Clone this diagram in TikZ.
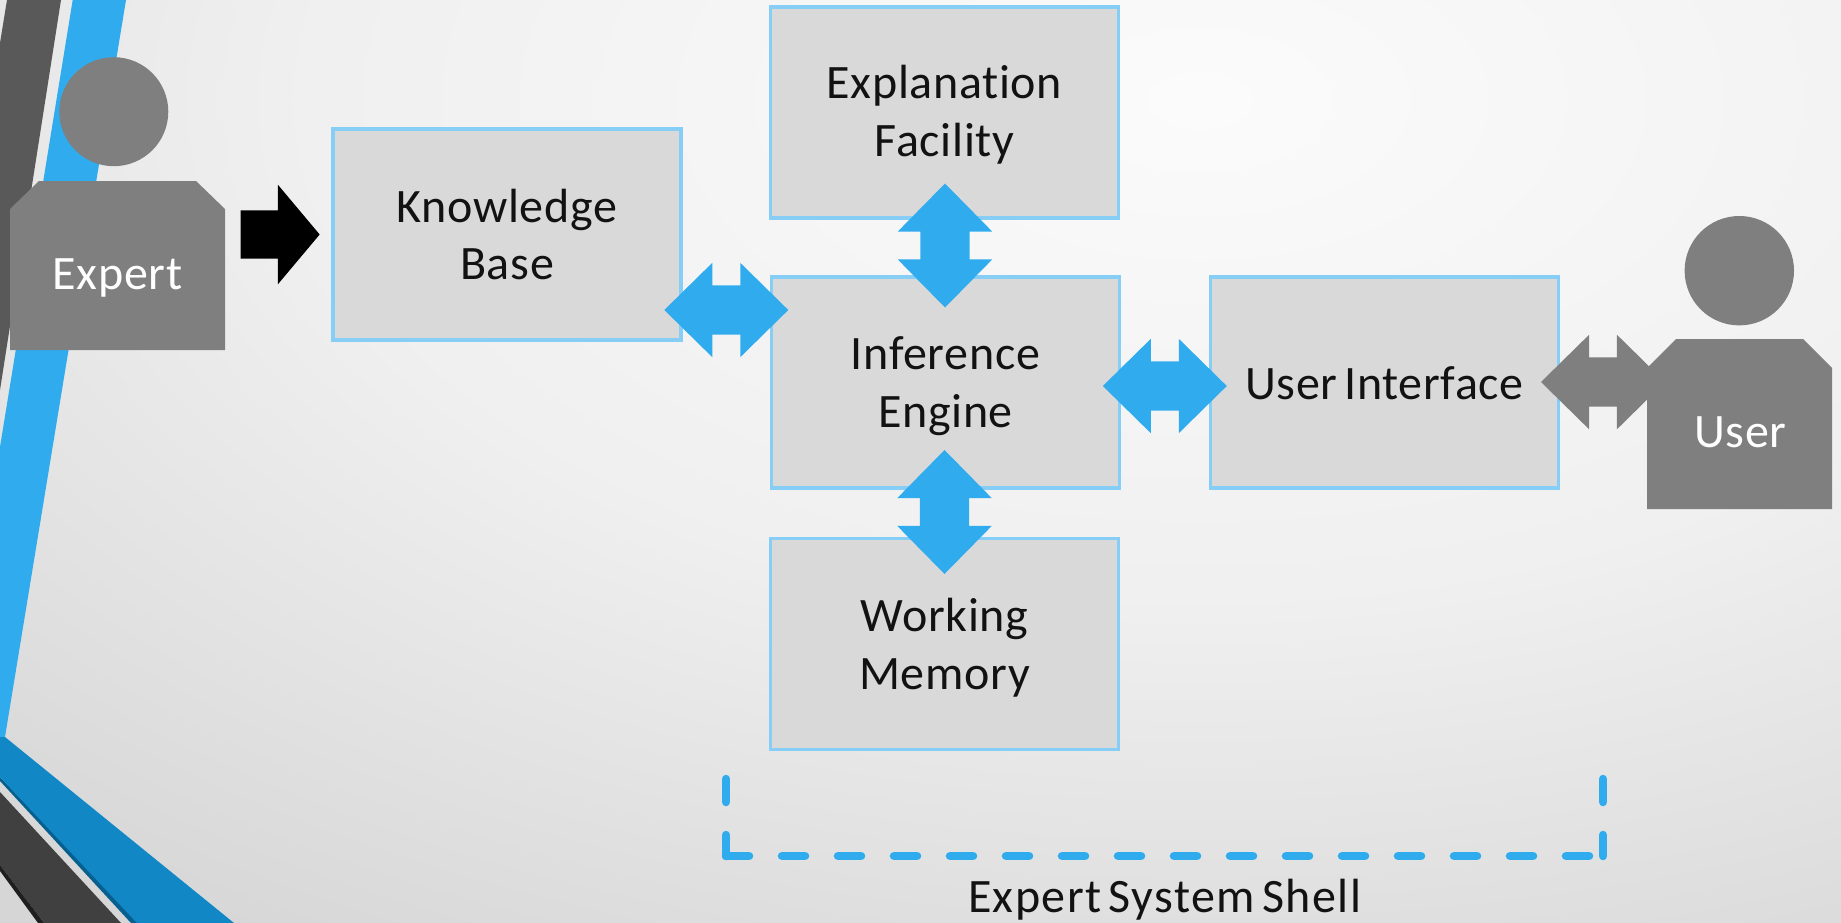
\documentclass[tikz,border=0pt]{standalone}
\usepackage{fontspec}
\setmainfont[Ligatures=NoCommon,LetterSpace=1.4,WordSpace=0.6]{Carlito}
\usetikzlibrary{shapes.arrows}
\pgfdeclareradialshading{slidebg}{\pgfpoint{0bp}{0bp}}{rgb(0bp)=(0.985,0.985,0.985);rgb(12.5bp)=(0.94,0.94,0.94);rgb(25bp)=(0.84,0.84,0.84);rgb(50bp)=(0.84,0.84,0.84)}
\definecolor{pageEdge}{rgb}{0.84,0.84,0.84}
\definecolor{boxfill}{HTML}{D9D9D9}
\definecolor{boxline}{HTML}{87CEF6}
\definecolor{skyblue}{HTML}{30ACEE}
\definecolor{manGray}{HTML}{7F7F7F}
\definecolor{bandDeep}{HTML}{1287C5}
\definecolor{bandEdge}{HTML}{05608F}
\tikzset{
  box/.style={draw=boxline,fill=boxfill,line width=3.5pt,rectangle,inner sep=0pt,
    minimum width=348pt,minimum height=211pt},
  boxtext/.style={align=center,text=black!93,inner sep=0pt,font=\fontsize{48}{57.5}\selectfont},
  dbl/.style={double arrow,double arrow head extend=22.5pt,double arrow tip angle=89,
    minimum width=94pt,minimum height=124pt,inner sep=0pt,fill=skyblue,anchor=center},
  lbl/.style={anchor=base,inner sep=0pt,font=\fontsize{48}{57.5}\selectfont},
  bracket/.style={draw=skyblue,line width=8.5pt,line cap=round,dash pattern=on 23pt off 33pt}
}
\newcommand{\shaftrule}{\rule{0pt}{49pt}}
\begin{document}
\begin{tikzpicture}[x=1pt,y=-1pt]
\useasboundingbox (0,0) rectangle (1841,923);
\begin{scope}
\clip (0,0) rectangle (1841,923);
\fill[pageEdge] (0,0) rectangle (1841,923);
\shade[shading=slidebg] (1200,100) ellipse [x radius=1800,y radius=1000];
\fill[black!65] (7,0) -- (61,0) -- (0,390) -- (0,43) -- cycle;
\fill[skyblue] (72.7,0) -- (126,0) -- (5,737) -- (0,737) -- (0,447) -- cycle;
\fill[black!75] (0,792) -- (121,923) -- (44,923) -- (0,865) -- cycle;
\fill[black!88] (0,865) -- (44,923) -- (38,923) -- (0,871) -- cycle;
\fill[bandEdge] (0,777) -- (139,923) -- (131,923) -- (0,781) -- cycle;
\fill[bandDeep] (0,737) -- (5,737) -- (234,923) -- (137,923) -- (0,777) -- cycle;
\end{scope}

% boxes
\node[box,label={[boxtext]center:{Knowledge\\Base}}] (kb) at (507,234.5) {};
\node[box,label={[boxtext,yshift=-2.4pt]center:{Explanation\\Facility}}] (ef) at (944.5,112.5) {};
\node[box,label={[boxtext,yshift=-3.5pt]center:{Inference\\Engine}}] (ie) at (945.5,382.5) {};
\node[box,label={[boxtext,yshift=-3.5pt]center:{Working\\Memory}}] (wm) at (944.5,644) {};
\node[box,label={[boxtext,yshift=-1pt]center:{User Interface}}] (ui) at (1384.5,382.5) {};

% expert
\fill[manGray] (10,209) -- (39,181) -- (196,181) -- (225,209) -- (225,350) -- (10,350) -- cycle;
\fill[manGray] (113.8,111.7) circle (54.5);
\node[lbl,text=white] (expert) at (117.5,289.5) {Expert};
\node[single arrow,single arrow head extend=25.5pt,single arrow tip angle=100,minimum width=99pt,
  minimum height=79pt,inner sep=0pt,fill=black,anchor=center] (toKb) at (270,234.5) {\rule{0pt}{48pt}};

% user
\node[dbl,fill=manGray] (uiUser) at (1603,382) {\shaftrule};
\fill[manGray] (1647,368) -- (1676,339) -- (1803,339) -- (1832,368) -- (1832,509) -- (1647,509) -- cycle;
\fill[manGray] (1739.3,270.7) circle (54.7);
\node[lbl,text=white] (user) at (1740.5,447.5) {User};

% arrows
\node[dbl] (kbIe) at (726.3,310) {\shaftrule};
\node[dbl] (ieUi) at (1164.8,386) {\shaftrule};
\node[dbl,rotate=90] (efIe) at (945,245.5) {\shaftrule};
\node[dbl,rotate=90] (ieWm) at (944.5,512) {\shaftrule};

% shell bracket
\coordinate (tl) at (726,779);
\coordinate (bl) at (726,856);
\coordinate (br) at (1603,856);
\coordinate (tr) at (1603,779);
\draw[bracket] (tl) -- (bl);
\draw[bracket] (tr) -- (br);
\draw[bracket] (bl) -- (br);
\node[lbl,text=black!93] (shell) at (1164.6,912.7) {\addfontfeature{LetterSpace=3}Expert System Shell};
\end{tikzpicture}
\end{document}
